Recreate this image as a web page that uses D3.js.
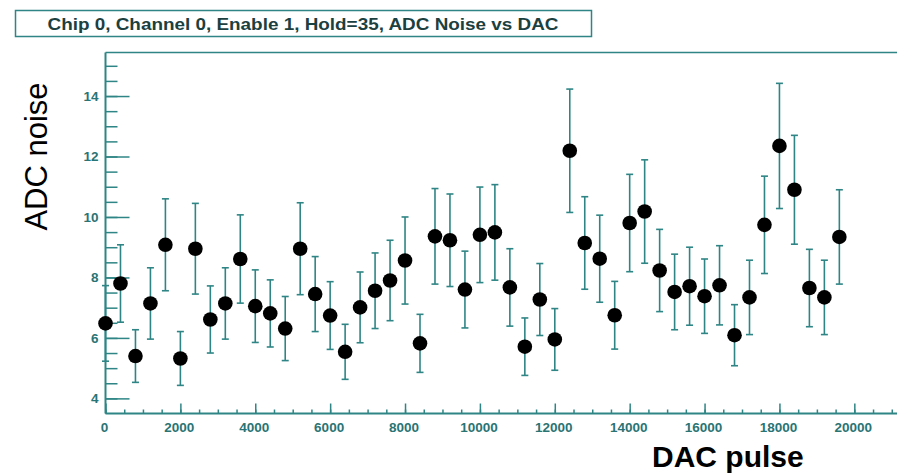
<!DOCTYPE html>
<html>
<head>
<meta charset="utf-8">
<script src="https://cdn.jsdelivr.net/npm/d3@7"></script>
<style>
  html, body { margin: 0; padding: 0; background: #fff; }
  svg { display: block; }
</style>
</head>
<body>
<svg id="chart" width="897" height="474"></svg>
<script>
const titleText = "Chip 0, Channel 0, Enable 1, Hold=35, ADC Noise vs DAC";
const xLabel = "DAC pulse";
const yLabel = "ADC noise";

const dacPulse = [0, 400, 800, 1200, 1600, 2000, 2400, 2800, 3200, 3600,
  4000, 4400, 4800, 5200, 5600, 6000, 6400, 6800, 7200, 7600,
  8000, 8400, 8800, 9200, 9600, 10000, 10400, 10800, 11200, 11600,
  12000, 12400, 12800, 13200, 13600, 14000, 14400, 14800, 15200, 15600,
  16000, 16400, 16800, 17200, 17600, 18000, 18400, 18800, 19200, 19600];

const adcNoise = [6.48, 7.80, 5.40, 7.14, 9.08, 5.32, 8.95, 6.61, 7.14, 8.61,
  7.05, 6.81, 6.31, 8.95, 7.45, 6.74, 5.54, 7.01, 7.56, 7.90,
  8.56, 5.82, 9.36, 9.23, 7.60, 9.41, 9.49, 7.67, 5.71, 7.27,
  5.95, 12.19, 9.14, 8.62, 6.75, 9.80, 10.18, 8.23, 7.52, 7.71,
  7.38, 7.74, 6.09, 7.34, 9.74, 12.35, 10.90, 7.65, 7.34, 9.34];

const noiseError = [1.25, 1.28, 0.87, 1.18, 1.52, 0.89, 1.50, 1.11, 1.18, 1.46,
  1.20, 1.11, 1.06, 1.52, 1.24, 1.12, 0.91, 1.17, 1.25, 1.33,
  1.44, 0.96, 1.58, 1.53, 1.27, 1.58, 1.58, 1.28, 0.95, 1.19,
  1.02, 2.04, 1.53, 1.44, 1.12, 1.61, 1.71, 1.36, 1.25, 1.29,
  1.23, 1.31, 1.01, 1.23, 1.61, 2.07, 1.80, 1.28, 1.23, 1.56];

const xTickValues = [0, 2000, 4000, 6000, 8000, 10000, 12000, 14000, 16000, 18000, 20000];
const yTickValues = [4, 6, 8, 10, 12, 14];

const lineColor = "#2f8585";
const labelColor = "#2a7474";

const svg = d3.select("#chart");
const pLeft = 105.5, pRight = 903, pTop = 52.5, pBottom = 413.5;

const x = d3.scaleLinear().domain([0, 21300]).range([pLeft, pRight]);
const y = d3.scaleLinear().domain([3.5, 15.44]).range([pBottom, pTop]);

// Title box
svg.append("rect")
  .attr("x", 15.5).attr("y", 10.5).attr("width", 576).attr("height", 26)
  .attr("fill", "#fff").attr("stroke", lineColor).attr("stroke-width", 1.5);
svg.append("text")
  .attr("x", 303).attr("y", 29.5)
  .attr("text-anchor", "middle")
  .attr("font-family", "Liberation Sans, Arial, sans-serif")
  .attr("font-weight", "bold").attr("font-size", 16.5)
  .attr("textLength", 511).attr("lengthAdjust", "spacingAndGlyphs")
  .attr("fill", "#1c3f3f")
  .text(titleText);

// Frame top
svg.append("line").attr("x1", pLeft).attr("x2", 897).attr("y1", pTop).attr("y2", pTop)
  .attr("stroke", lineColor).attr("stroke-width", 1.5);

// Y axis: major ticks inward (long), minor ticks every 0.5
const yAxis = d3.axisRight(y).tickValues(yTickValues).tickSize(24).tickFormat("");
const yMinor = d3.axisRight(y).tickValues(d3.range(4, 15.5, 0.5)).tickSize(12).tickFormat("");
svg.append("g").attr("transform", `translate(${pLeft},0)`).call(yMinor)
  .call(g => g.select(".domain").remove())
  .selectAll("line").attr("stroke", lineColor).attr("stroke-width", 1.5);
svg.append("g").attr("transform", `translate(${pLeft},0)`).call(yAxis)
  .call(g => g.select(".domain").remove())
  .selectAll("line").attr("stroke", lineColor).attr("stroke-width", 1.5);
svg.append("line").attr("x1", pLeft).attr("x2", pLeft).attr("y1", pTop).attr("y2", pBottom)
  .attr("stroke", lineColor).attr("stroke-width", 2);
svg.selectAll(".ylab").data(yTickValues).join("text")
  .attr("class", "ylab")
  .attr("x", 98.5).attr("y", d => y(d)).attr("dy", "0.36em")
  .attr("text-anchor", "end")
  .attr("font-family", "Liberation Sans, Arial, sans-serif")
  .attr("font-weight", "bold").attr("font-size", 13.5)
  .attr("fill", labelColor)
  .text(d => d);

// X axis: ticks upward
const xMinor = d3.axisTop(x).tickValues(d3.range(0, 21500, 500)).tickSize(4).tickFormat("");
const xMajor = d3.axisTop(x).tickValues(xTickValues).tickSize(10).tickFormat("");
svg.append("g").attr("transform", `translate(0,${pBottom})`).call(xMinor)
  .call(g => g.select(".domain").remove())
  .selectAll("line").attr("stroke", lineColor).attr("stroke-width", 1.5);
svg.append("g").attr("transform", `translate(0,${pBottom})`).call(xMajor)
  .call(g => g.select(".domain").remove())
  .selectAll("line").attr("stroke", lineColor).attr("stroke-width", 1.5);
svg.append("line").attr("x1", pLeft).attr("x2", 897).attr("y1", pBottom).attr("y2", pBottom)
  .attr("stroke", lineColor).attr("stroke-width", 2);
svg.selectAll(".xlab").data(xTickValues).join("text")
  .attr("class", "xlab")
  .attr("x", d => x(d) - 1).attr("y", 432)
  .attr("text-anchor", "middle")
  .attr("font-family", "Liberation Sans, Arial, sans-serif")
  .attr("font-weight", "bold").attr("font-size", 13.5)
  .attr("fill", labelColor)
  .text(d => d);

// Axis titles
svg.append("text")
  .attr("x", 652).attr("y", 467)
  .attr("font-family", "Liberation Sans, Arial, sans-serif")
  .attr("font-weight", "bold").attr("font-size", 30)
  .attr("fill", "#000")
  .text(xLabel);
svg.append("text")
  .attr("transform", "translate(46.5,156.5) rotate(-90)")
  .attr("text-anchor", "middle")
  .attr("font-family", "Liberation Sans, Arial, sans-serif")
  .attr("font-size", 31)
  .attr("fill", "#000")
  .text(yLabel);

// Data
const data = dacPulse.map((d, i) => ({ x: d, y: adcNoise[i], e: noiseError[i] }));
const gData = svg.append("g");
const bars = gData.selectAll(".bar").data(data).join("g").attr("class", "bar");
bars.append("line")
  .attr("x1", d => x(d.x)).attr("x2", d => x(d.x))
  .attr("y1", d => y(d.y + d.e)).attr("y2", d => y(d.y - d.e))
  .attr("stroke", lineColor).attr("stroke-width", 1.6);
bars.append("line")
  .attr("x1", d => x(d.x) - 3.5).attr("x2", d => x(d.x) + 3.5)
  .attr("y1", d => y(d.y + d.e)).attr("y2", d => y(d.y + d.e))
  .attr("stroke", lineColor).attr("stroke-width", 1.6);
bars.append("line")
  .attr("x1", d => x(d.x) - 3.5).attr("x2", d => x(d.x) + 3.5)
  .attr("y1", d => y(d.y - d.e)).attr("y2", d => y(d.y - d.e))
  .attr("stroke", lineColor).attr("stroke-width", 1.6);
gData.selectAll("circle").data(data).join("circle")
  .attr("cx", d => x(d.x)).attr("cy", d => y(d.y))
  .attr("r", 7.3)
  .attr("fill", "#000");
</script>
</body>
</html>
